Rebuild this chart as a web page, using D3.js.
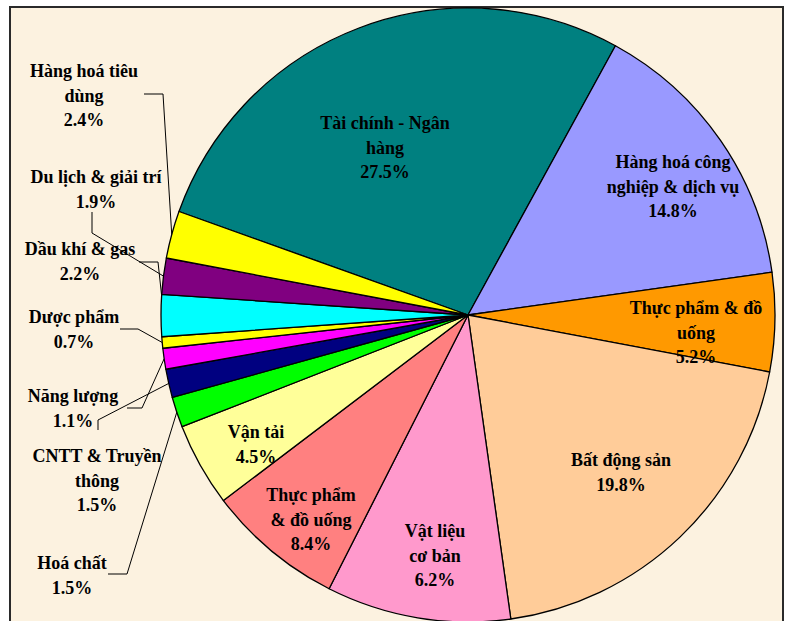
<!DOCTYPE html>
<html>
<head>
<meta charset="utf-8">
<script src="https://cdn.jsdelivr.net/npm/d3@7"></script>
<style>
  body { margin: 0; background: #fff; }
  svg text { font-family: "Times New Roman", "Liberation Serif", serif; font-weight: bold; font-size: 18px; fill: #000; }
</style>
</head>
<body>
<svg id="chart" width="787" height="621"></svg>
<script>
    // sectors, clockwise starting from the big teal slice
    var sectors = ["Tài chính - Ngân hàng", "Hàng hoá công nghiệp & dịch vụ", "Thực phẩm & đồ uống", "Bất động sản",
                   "Vật liệu cơ bản", "Thực phẩm & đồ uống", "Vận tải", "Hoá chất", "CNTT & Truyền thông",
                   "Năng lượng", "Dược phẩm", "Dầu khí & gas", "Du lịch & giải trí", "Hàng hoá tiêu dùng"];
    // slice sizes as drawn (%)
    var shares = [27.5, 14.8, 5.2, 19.8, 9.7, 7.2, 4.4, 1.6, 1.5, 1.1, 0.6, 2.2, 1.9, 2.5];
    // percentages printed on the labels
    var printed = ["27.5%", "14.8%", "5.2%", "19.8%", "6.2%", "8.4%", "4.5%", "1.5%", "1.5%", "1.1%", "0.7%", "2.2%", "1.9%", "2.4%"];
    var colors = ["#008080", "#9999FF", "#FF9900", "#FFCC99", "#FF99CC", "#FF8080", "#FFFF99",
                  "#00FF00", "#000080", "#FF00FF", "#FFFF00", "#00FFFF", "#800080", "#FFFF00"];

    // label layout: wrapped lines, centre x, first baseline, optional leader (text end, elbow)
    var labelLayout = [
      {lines: ["Tài chính - Ngân", "hàng"], x: 385, y: 129},
      {lines: ["Hàng hoá công", "nghiệp & dịch vụ"], x: 673, y: 168},
      {lines: ["Thực phẩm & đồ", "uống"], x: 696, y: 314},
      {lines: ["Bất động sản"], x: 621, y: 466},
      {lines: ["Vật liệu", "cơ bản"], x: 435, y: 537},
      {lines: ["Thực phẩm", "& đồ uống"], x: 311, y: 501},
      {lines: ["Vận tải"], x: 256, y: 438},
      {lines: ["Hoá chất"], x: 72, y: 569, leader: [[108, 574], [127, 574]], at: 0.5},
      {lines: ["CNTT & Truyền", "thông"], x: 97, y: 462, leader: [[98, 430], [98, 420]], at: 0.5},
      {lines: ["Năng lượng"], x: 73, y: 402, leader: [[127, 408], [142, 408]], at: 0.5},
      {lines: ["Dược phẩm"], x: 74, y: 323, leader: [[120, 329], [138, 329]], at: 0.5},
      {lines: ["Dầu khí & gas"], x: 80, y: 255, leader: [[139, 262], [158, 262]], at: 0.97},
      {lines: ["Du lịch & giải trí"], x: 96, y: 183, leader: [[92, 212], [92, 233]], at: 0.5},
      {lines: ["Hàng hoá tiêu", "dùng"], x: 84, y: 77, leader: [[144, 94], [163, 94]], at: 0.5}
    ];
    var lineGap = 24.5;

    var svg = d3.select("#chart");
    var cx = 468, cy = 315, radius = 307;

    // parchment background inside the frame
    var defs = svg.append("defs");
    var f = defs.append("filter").attr("id", "paper").attr("x", 0).attr("y", 0).attr("width", "100%").attr("height", "100%");
    f.append("feTurbulence").attr("type", "fractalNoise").attr("baseFrequency", "0.012 0.02").attr("numOctaves", 3).attr("seed", 7);
    f.append("feColorMatrix").attr("values", "0 0 0 0 0.98  0 0 0 0 0.90  0 0 0 0 0.74  0 0 0 0.55 -0.12");
    svg.append("rect").attr("x", 10).attr("y", 7).attr("width", 773).attr("height", 630).attr("fill", "#FCF2E0");
    svg.append("rect").attr("x", 10).attr("y", 7).attr("width", 773).attr("height", 630).attr("filter", "url(#paper)");
    svg.append("rect").attr("x", 10).attr("y", 7).attr("width", 773).attr("height", 630)
      .attr("fill", "none").attr("stroke", "#2a2a2a").attr("stroke-width", 2);

    var start = -70.3 * Math.PI / 180;
    var pie = d3.pie().sort(null).value(d => d).startAngle(start).endAngle(start + 2 * Math.PI);
    var arcs = pie(shares);
    var arc = d3.arc().innerRadius(0).outerRadius(radius);

    var g = svg.append("g").attr("transform", "translate(" + cx + "," + cy + ")");
    g.selectAll("path.slice")
      .data(arcs)
      .enter().append("path")
      .attr("class", "slice")
      .attr("d", arc)
      .attr("fill", (d, i) => colors[i])
      .attr("stroke", "#000")
      .attr("stroke-width", 1.3)
      .attr("stroke-linejoin", "round");

    // leader lines to the small slices
    var lines = svg.append("g");
    arcs.forEach(function(a, i) {
      var lab = labelLayout[i];
      if (!lab.leader) return;
      var ang = a.startAngle + (a.endAngle - a.startAngle) * lab.at;
      var end = [cx + radius * Math.sin(ang), cy - radius * Math.cos(ang)];
      lines.append("path")
        .attr("d", d3.line()(lab.leader.concat([end])))
        .attr("fill", "none")
        .attr("stroke", "#000")
        .attr("stroke-width", 1);
    });

    // labels
    var labels = svg.append("g");
    labelLayout.forEach(function(lab, i) {
      var t = labels.append("text").attr("text-anchor", "middle");
      lab.lines.concat([printed[i]]).forEach(function(s, k) {
        t.append("tspan").attr("x", lab.x).attr("y", lab.y + k * lineGap).text(s);
      });
    });
</script>
</body>
</html>
